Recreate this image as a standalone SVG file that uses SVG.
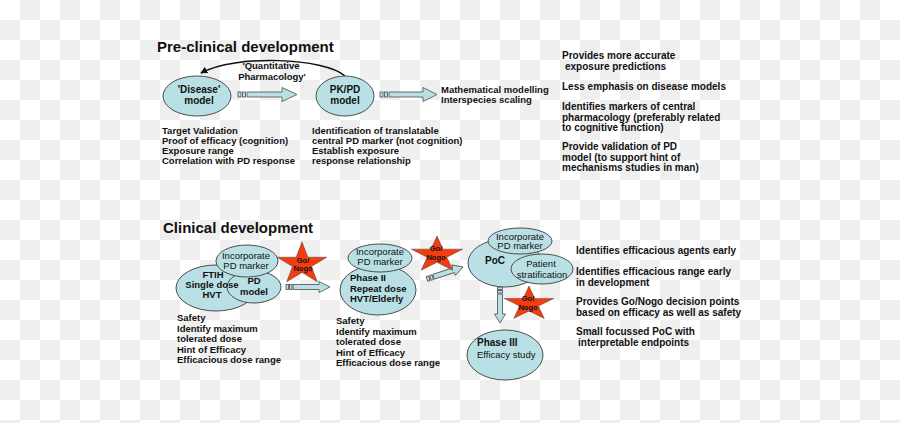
<svg xmlns="http://www.w3.org/2000/svg" width="900" height="423" viewBox="0 0 900 423">
<defs>
<pattern id="chk" x="0" y="0" width="40" height="40" patternUnits="userSpaceOnUse">
<rect width="40" height="40" fill="#ffffff"/>
<rect x="20" y="0" width="20" height="20" fill="#efefef"/>
<rect x="0" y="20" width="20" height="20" fill="#efefef"/>
</pattern>
<marker id="ah" viewBox="0 0 10 10" refX="9" refY="5" markerWidth="7" markerHeight="7" orient="auto-start-reverse" markerUnits="userSpaceOnUse">
<path d="M0 0 L10 5 L0 10 Z" fill="#111"/>
</marker>
<polygon id="star" points="0,-1 0.2245,-0.309 0.951,-0.309 0.3633,0.118 0.5878,0.809 0,0.382 -0.5878,0.809 -0.3633,0.118 -0.951,-0.309 -0.2245,-0.309"/>
</defs>
<style>
text{font-family:"Liberation Sans",Arial,sans-serif;fill:#111}
.title{font-size:15px;font-weight:bold}
.b{font-size:9.5px;font-weight:bold}
.r{font-size:10px;font-weight:bold}
.n{font-size:9.5px}
.nb{font-size:10px;font-weight:bold}
.m{text-anchor:middle}
.node{fill:#b9e0e4;stroke:#4d4d4d;stroke-width:1}
.arr{fill:#b9e0e4;stroke:#4d4d4d;stroke-width:0.8}
.st{fill:#f43c10;stroke:#3a3a3a;stroke-width:0.02}
.g{font-size:7.5px;font-weight:bold;text-anchor:middle}
</style>
<rect width="900" height="423" fill="url(#chk)"/>

<text class="title" x="157" y="52">Pre-clinical development</text>
<text class="title" x="163" y="233">Clinical development</text>

<g id="connectors">
<path d="M345 76 C325 58,235 54,201 73" fill="none" stroke="#111" stroke-width="1.5" marker-end="url(#ah)"/>
<g class="arr" transform="translate(238,94.5)">
<rect x="0" y="-2.5" width="3" height="5"/><rect x="4.5" y="-2.5" width="3" height="5"/>
<path d="M9 -2.5 H44 V-7 L59 0 L44 7 V2.5 H9 Z"/>
</g>
<g class="arr" transform="translate(380,94.5)">
<rect x="0" y="-2.5" width="3" height="5"/><rect x="4.5" y="-2.5" width="3" height="5"/>
<path d="M9 -2.5 H43 V-7 L57 0 L43 7 V2.5 H9 Z"/>
</g>
<g class="arr" transform="translate(286,287)">
<rect x="0" y="-2.5" width="2.5" height="5"/><rect x="3.5" y="-2.5" width="2.5" height="5"/>
<path d="M7 -2.5 H33 V-5.5 L44 0 L33 5.5 V2.5 H7 Z"/>
</g>
<g class="arr" transform="translate(427,279) rotate(-18.4)">
<rect x="0" y="-2.5" width="2.5" height="5"/><rect x="3.5" y="-2.5" width="2.5" height="5"/>
<path d="M7 -2.5 H28 V-5.5 L38 0 L28 5.5 V2.5 H7 Z"/>
</g>
<g class="arr" transform="translate(500,287) rotate(90)">
<rect x="0" y="-2.5" width="2.5" height="5"/><rect x="3.5" y="-2.5" width="2.5" height="5"/>
<path d="M7 -2.5 H27 V-5.5 L36 0 L27 5.5 V2.5 H7 Z"/>
</g>
</g>

<text class="b m" x="271" y="69">'Quantitative</text>
<text class="b m" x="272" y="80">Pharmacology'</text>

<g id="disease-model">
<ellipse class="node" cx="197" cy="96" rx="34" ry="20"/>
<text class="nb m" x="199" y="93">'Disease'</text>
<text class="nb m" x="199" y="103.5">model</text>
</g>
<g id="pkpd-model">
<ellipse class="node" cx="345" cy="96" rx="29" ry="20"/>
<text class="nb m" x="345" y="93">PK/PD</text>
<text class="nb m" x="345" y="103.5">model</text>
</g>

<g id="modelling-text">
<text class="b" x="441" y="93">Mathematical modelling</text>
<text class="b" x="441" y="103">Interspecies scaling</text>
</g>

<g id="disease-notes">
<text class="b" x="162" y="134">Target Validation</text>
<text class="b" x="162" y="144">Proof of efficacy (cognition)</text>
<text class="b" x="162" y="154">Exposure range</text>
<text class="b" x="162" y="164">Correlation with PD response</text>
</g>
<g id="pkpd-notes">
<text class="b" x="312" y="134">Identification of translatable</text>
<text class="b" x="312" y="144">central PD marker (not cognition)</text>
<text class="b" x="312" y="154">Establish exposure</text>
<text class="b" x="312" y="164">response relationship</text>
</g>

<g id="preclinical-benefits">
<text class="r" x="562" y="59">Provides more accurate</text>
<text class="r" x="565" y="70">exposure predictions</text>
<text class="r" x="562" y="90">Less emphasis on disease models</text>
<text class="r" x="562" y="110">Identifies markers of central</text>
<text class="r" x="562" y="120.5">pharmacology (preferably related</text>
<text class="r" x="562" y="131">to cognitive function)</text>
<text class="r" x="562" y="150">Provide validation of PD</text>
<text class="r" x="562" y="160.5">model (to support hint of</text>
<text class="r" x="562" y="171">mechanisms studies in man)</text>
</g>

<g id="ftih">
<ellipse class="node" cx="216" cy="288" rx="40" ry="23"/>
</g>
<g id="pd-model">
<ellipse class="node" cx="254" cy="287" rx="27" ry="16"/>
<text class="b m" x="254" y="284">PD</text>
<text class="b m" x="254" y="294.5">model</text>
</g>
<g id="incorporate-1">
<ellipse class="node" cx="247" cy="261" rx="31" ry="16"/>
<text class="n m" x="246" y="258.5">Incorporate</text>
<text class="n m" x="246" y="268.5">PD marker</text>
</g>
<g id="ftih-text">
<text class="b m" x="213" y="278">FTIH</text>
<text class="b m" x="212" y="288">Single dose</text>
<text class="b m" x="212" y="298">HVT</text>
</g>

<g id="gonogo-1">
<use href="#star" class="st" transform="translate(302,264) scale(26,22)"/>
<text class="g" x="303" y="263">Go/</text>
<text class="g" x="303" y="271">Nogo</text>
</g>

<g id="ftih-notes">
<text class="b" x="177" y="321">Safety</text>
<text class="b" x="177" y="331.5">Identify maximum</text>
<text class="b" x="177" y="342">tolerated dose</text>
<text class="b" x="177" y="352.5">Hint of Efficacy</text>
<text class="b" x="177" y="363">Efficacious dose range</text>
</g>

<g id="phase2">
<ellipse class="node" cx="378" cy="290" rx="38" ry="25"/>
<text class="b" x="350" y="281">Phase II</text>
<text class="b" x="350" y="292">Repeat dose</text>
<text class="b" x="350" y="302">HVT/Elderly</text>
</g>
<g id="incorporate-2">
<ellipse class="node" cx="380" cy="258" rx="32" ry="14"/>
<text class="n m" x="380" y="255">Incorporate</text>
<text class="n m" x="380" y="264.5">PD marker</text>
</g>

<g id="gonogo-2">
<use href="#star" class="st" transform="translate(437,255) scale(27,19)"/>
<text class="g" x="436" y="251">Go/</text>
<text class="g" x="436" y="260">Nogo</text>
</g>

<g id="phase2-notes">
<text class="b" x="336" y="324">Safety</text>
<text class="b" x="336" y="334.5">Identify maximum</text>
<text class="b" x="336" y="345">tolerated dose</text>
<text class="b" x="336" y="355.5">Hint of Efficacy</text>
<text class="b" x="336" y="366">Efficacious dose range</text>
</g>

<g id="poc">
<ellipse class="node" cx="505" cy="263" rx="37" ry="24"/>
<text class="nb m" x="495" y="264">PoC</text>
</g>
<g id="incorporate-3">
<ellipse class="node" cx="520" cy="241" rx="32" ry="13"/>
<text class="n m" x="520" y="239.5">Incorporate</text>
<text class="n m" x="520" y="249">PD marker</text>
</g>
<g id="patient-stratification">
<ellipse class="node" cx="542" cy="269" rx="31" ry="15"/>
<text class="n m" x="541" y="267">Patient</text>
<text class="n m" x="542" y="277.5">stratification</text>
</g>

<g id="gonogo-3">
<use href="#star" class="st" transform="translate(529,304) scale(26,18)"/>
<text class="g" x="528" y="301">Go/</text>
<text class="g" x="528" y="310">Nogo</text>
</g>

<g id="phase3">
<ellipse class="node" cx="505" cy="355" rx="38" ry="25"/>
<text class="nb" x="477" y="346">Phase III</text>
<text class="n" x="477" y="358">Efficacy study</text>
</g>

<g id="clinical-benefits">
<text class="r" x="576" y="254">Identifies efficacious agents early</text>
<text class="r" x="576" y="275">Identifies efficacious range early</text>
<text class="r" x="576" y="285.5">in development</text>
<text class="r" x="576" y="305">Provides Go/Nogo decision points</text>
<text class="r" x="576" y="315.5">based on efficacy as well as safety</text>
<text class="r" x="576" y="335">Small focussed PoC with</text>
<text class="r" x="578" y="346">interpretable endpoints</text>
</g>
</svg>
